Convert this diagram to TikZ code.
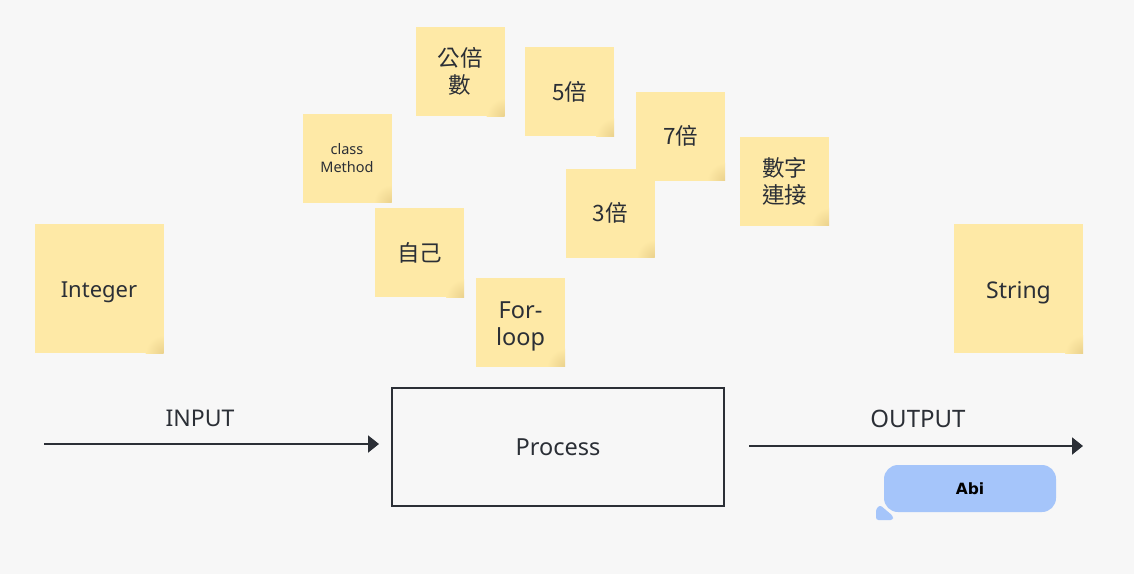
\documentclass[tikz,border=0pt]{standalone}
\usepackage{fontspec}
\setmainfont{Noto Sans}
\newfontfamily\cjk{Noto Sans CJK TC}
\newfontfamily\abifont{DejaVu Sans}
\usetikzlibrary{arrows.meta}
\definecolor{bg}{HTML}{F7F7F7}
\definecolor{note}{HTML}{FEE9A6}
\definecolor{noteshade}{HTML}{EAD18C}
\definecolor{ink}{HTML}{2B2F36}
\definecolor{bubble}{HTML}{A5C5FA}
\tikzset{
  sticky/.style={fill=note, minimum width=#1, minimum height=#1, inner sep=0pt, align=center, text=ink, font=\fontsize{22}{27}\selectfont},
  sticky/.default=89pt,
  cjknote/.style={sticky, font=\fontsize{22.5}{27}\selectfont\cjk},
  notetext/.style={inner sep=0pt, align=center, text=ink, font=\fontsize{22}{27}\selectfont},
  flowarrow/.style={draw=ink, line width=2pt, -{Triangle[length=11pt,width=17pt]}},
  label/.style={text=ink, font=\fontsize{23.5}{28}\selectfont},
}
\newcommand{\corner}[1]{%
  \begin{scope}
    \clip (#1.south west) rectangle (#1.north east);
    \shade[inner color=noteshade, outer color=note] (#1.south east) circle (18pt);
  \end{scope}}
\begin{document}
\begin{tikzpicture}[x=1pt,y=-1pt]
\fill[bg] (0,0) rectangle (1134,574);
\useasboundingbox (0,0) rectangle (1134,574);

\node[sticky=129pt] (integer) at (99,288.5) {};
\corner{integer}
\node[notetext] (integerText) at (99,292.5) {Integer};
\node[sticky=129pt] (string) at (1018.5,288.5) {};
\corner{string}
\node[notetext, font=\fontsize{23}{27}\selectfont] (stringText) at (1018.5,292.5) {String};

\node[sticky, font=\fontsize{14.5}{18}\selectfont] (class) at (347,158) {class\\Method};
\corner{class}
\node[cjknote] (gbs) at (460,71.5) {公倍\\數};
\corner{gbs}
\node[cjknote] (five) at (569.5,91.5) {5倍};
\corner{five}
\node[cjknote] (three) at (610,213) {3倍};
\corner{three}
\node[cjknote] (seven) at (680.5,136) {7倍};
\corner{seven}
\node[cjknote] (link) at (784.5,181) {數字\\連接};
\corner{link}
\node[cjknote] (self) at (419.5,252.5) {自己};
\corner{self}
\node[sticky] (loop) at (520.5,322) {};
\corner{loop}
\node[notetext, font=\fontsize{23.5}{27}\selectfont] (loopText) at (520.5,326) {For-\\loop};

\node[draw=ink, line width=2pt, minimum width=332pt, minimum height=118pt, label, inner sep=0pt] (process) at (558,447) {Process};

\coordinate (inStart) at (44,444);
\coordinate (inEnd) at (379,444);
\coordinate (outStart) at (749,446);
\coordinate (outEnd) at (1083,446);
\draw[flowarrow] (inStart) -- (inEnd);
\node[label, font=\fontsize{23}{28}\selectfont] (input) at (200,418) {INPUT};
\draw[flowarrow] (outStart) -- (outEnd);
\node[label, font=\fontsize{24}{28}\selectfont] (output) at (918,419) {OUTPUT};

\node[fill=bubble, rounded corners=14pt, minimum width=172pt, minimum height=47pt, inner sep=0pt, font=\abifont\bfseries\fontsize{15.5}{18}\selectfont, text=black] (abi) at (970,488.5) {Abi};
\fill[bubble, rounded corners=2.5pt] (876,509) -- (880,505) -- (893,516) -- (893,520) -- (876,520) -- cycle;
\end{tikzpicture}
\end{document}
